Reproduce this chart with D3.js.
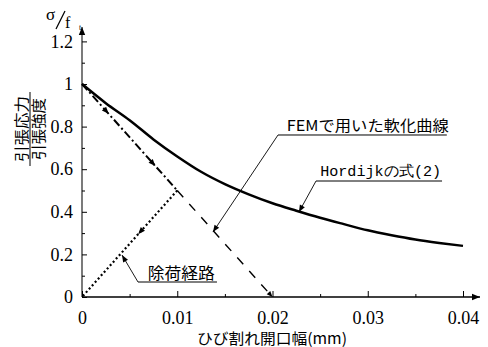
<!DOCTYPE html>
<html><head><meta charset="utf-8">
<script src="https://cdn.jsdelivr.net/npm/d3@7/dist/d3.min.js"></script>
<style>
html,body{margin:0;padding:0;background:#fff;}
svg{display:block;}
</style></head>
<body>
<script>
// ---- data ----
const crackWidth = [0, 0.0025, 0.005, 0.0075, 0.01, 0.0125, 0.015, 0.0175, 0.02, 0.0225, 0.025, 0.0275, 0.03, 0.0325, 0.035, 0.0375, 0.04];
const hordijk    = [1, 0.91, 0.83, 0.74, 0.66, 0.588, 0.53, 0.482, 0.44, 0.405, 0.372, 0.342, 0.313, 0.29, 0.27, 0.254, 0.24];
const femLoadW   = [0, 0.01];
const femLoadS   = [1, 0.5];
const femRestW   = [0.01, 0.02];
const femRestS   = [0.5, 0];
const unloadW    = [0.01, 0];
const unloadS    = [0.5, 0];
const xTickMajor = [0, 0.01, 0.02, 0.03, 0.04];
const xTickLabels = ["0", "0.01", "0.02", "0.03", "0.04"];
const xTickMinor = [0.005, 0.015, 0.025, 0.035];
const yTickMajor = [0, 0.2, 0.4, 0.6, 0.8, 1, 1.2];
const yTickLabels = ["0", "0.2", "0.4", "0.6", "0.8", "1", "1.2"];
const yTickMinor = [0.1, 0.3, 0.5, 0.7, 0.9, 1.1];
const xTitle = "ひび割れ開口幅(mm)";
const yTitleNum = "引張応力";
const yTitleDen = "引張強度";
const labelFEM = "FEMで用いた軟化曲線";
const labelHordijk = "Hordijkの式(2)";
const labelUnload = "除荷経路";

// ---- layout ----
const W = 488, H = 347;
const SERIF = '"Liberation Serif"';
const JP = '"Noto Sans CJK JP"';
const MONO = '"Liberation Mono"';
const svg = d3.select("body").append("svg").attr("width", W).attr("height", H);
const x = d3.scaleLinear().domain([0, 0.04]).range([82, 463]);
const y = d3.scaleLinear().domain([0, 1.2]).range([297, 41.4]);

const defs = svg.append("defs");
function mk(id, w, h) {
  defs.append("marker").attr("id", id).attr("viewBox", "0 0 10 10")
    .attr("refX", 10).attr("refY", 5).attr("markerWidth", w).attr("markerHeight", h)
    .attr("markerUnits", "userSpaceOnUse").attr("orient", "auto")
    .append("path").attr("d", "M0,1 L10,5 L0,9 Z").attr("fill", "#000");
}
mk("ax", 11, 8);
mk("ar", 9, 7);
mk("ars", 8, 6);

// axes lines with arrows
svg.append("line").attr("x1", x(0)).attr("y1", y(0)).attr("x2", 480).attr("y2", y(0))
  .attr("stroke", "#000").attr("stroke-width", 1.3).attr("marker-end", "url(#ax)");
svg.append("line").attr("x1", x(0)).attr("y1", y(0)).attr("x2", x(0)).attr("y2", 27)
  .attr("stroke", "#333").attr("stroke-width", 1.3).attr("marker-end", "url(#ax)");

// x axis ticks
const xAx = svg.append("g").attr("transform", `translate(0,${y(0)})`)
  .call(d3.axisBottom(x).tickValues(xTickMajor).tickSize(-6).tickPadding(14)
    .tickFormat((d, i) => xTickLabels[i]));
xAx.select(".domain").remove();
xAx.selectAll("text").style("font-family", SERIF).style("font-size", "18px").attr("fill", "#000");
const xMin = svg.append("g").attr("transform", `translate(0,${y(0)})`)
  .call(d3.axisBottom(x).tickValues(xTickMinor).tickSize(-3).tickFormat(""));
xMin.select(".domain").remove();

// y axis ticks
const yAx = svg.append("g").attr("transform", `translate(${x(0)},0)`)
  .call(d3.axisLeft(y).tickValues(yTickMajor).tickSize(-5).tickPadding(9)
    .tickFormat((d, i) => yTickLabels[i]));
yAx.select(".domain").remove();
yAx.selectAll("text").style("font-family", SERIF).style("font-size", "18px").attr("fill", "#000");
const yMin = svg.append("g").attr("transform", `translate(${x(0)},0)`)
  .call(d3.axisLeft(y).tickValues(yTickMinor).tickSize(-3).tickFormat(""));
yMin.select(".domain").remove();

// series
const line = d3.line().x(d => x(d[0])).y(d => y(d[1]));
svg.append("path").datum(crackWidth.map((w, i) => [w, hordijk[i]]))
  .attr("d", line.curve(d3.curveMonotoneX)).attr("fill", "none")
  .attr("stroke", "#000").attr("stroke-width", 2.5);
const lin = d3.line().x(d => x(d[0])).y(d => y(d[1]));
svg.append("path").datum(femLoadW.map((w, i) => [w, femLoadS[i]]))
  .attr("d", lin).attr("fill", "none").attr("stroke", "#000").attr("stroke-width", 2)
  .attr("stroke-dasharray", "8,3,2,3");
svg.append("path").datum(femRestW.map((w, i) => [w, femRestS[i]]))
  .attr("d", lin).attr("fill", "none").attr("stroke", "#000").attr("stroke-width", 1.4)
  .attr("stroke-dasharray", "9,9").attr("marker-end", "url(#ars)");
svg.append("path").datum(unloadW.map((w, i) => [w, unloadS[i]]))
  .attr("d", lin).attr("fill", "none").attr("stroke", "#000").attr("stroke-width", 2.2)
  .attr("stroke-dasharray", "2,2.5");

// direction arrows along paths
function arrowAt(w0, s0, w1, s1) {
  svg.append("line").attr("x1", x(w0)).attr("y1", y(s0)).attr("x2", x(w1)).attr("y2", y(s1))
    .attr("stroke", "none").attr("marker-end", "url(#ar)");
}
arrowAt(0.0070, 0.65, 0.0077, 0.615);
arrowAt(0.0066, 0.33, 0.0059, 0.295);
arrowAt(0.0022, 0.89, 0.0028, 0.86);

// annotations (anchors in data units)
function leader(ulx0, ulx1, uly, tipW, tipS) {
  svg.append("line").attr("x1", x(ulx0)).attr("y1", y(uly)).attr("x2", x(ulx1)).attr("y2", y(uly))
    .attr("stroke", "#000").attr("stroke-width", 1);
  svg.append("line").attr("x1", x(ulx0)).attr("y1", y(uly)).attr("x2", x(tipW)).attr("y2", y(tipS))
    .attr("stroke", "#000").attr("stroke-width", 0.9).attr("marker-end", "url(#ar)");
}
leader(0.02058, 0.0383, 0.7606, 0.01375, 0.305);
svg.append("text").attr("x", x(0.0215)).attr("y", y(0.7606) - 4)
  .style("font-family", JP).style("font-size", "15px").attr("textLength", 162).attr("lengthAdjust", "spacingAndGlyphs")
  .text(labelFEM);
leader(0.02457, 0.0378, 0.5446, 0.02278, 0.399);
svg.append("text").attr("x", x(0.0250)).attr("y", y(0.5446) - 5)
  .style("font-family", MONO).style("font-size", "15px")
  .attr("textLength", 121).attr("lengthAdjust", "spacingAndGlyphs")
  .text(labelHordijk);
leader(0.00588, 0.01417, 0.0704, 0.0042, 0.197);
svg.append("text").attr("x", x(0.0069)).attr("y", y(0.0704) - 3)
  .style("font-family", JP).style("font-size", "16px").attr("textLength", 67).attr("lengthAdjust", "spacingAndGlyphs")
  .text(labelUnload);

// x title
svg.append("text").attr("x", 197).attr("y", 344)
  .style("font-family", JP).style("font-size", "15px").attr("textLength", 150).attr("lengthAdjust", "spacingAndGlyphs")
  .text(xTitle);

// y title: fraction rotated
const yt = svg.append("g").attr("transform", "translate(30,129) rotate(-90)");
yt.append("text").attr("x", 0).attr("y", -3).attr("text-anchor", "middle")
  .style("font-family", JP).style("font-size", "15px").attr("textLength", 66).attr("lengthAdjust", "spacingAndGlyphs")
  .text(yTitleNum);
yt.append("line").attr("x1", -37).attr("x2", 37).attr("y1", 0).attr("y2", 0)
  .attr("stroke", "#000").attr("stroke-width", 1);
yt.append("text").attr("x", 0).attr("y", 14).attr("text-anchor", "middle")
  .style("font-family", JP).style("font-size", "15px").attr("textLength", 62).attr("lengthAdjust", "spacingAndGlyphs")
  .text(yTitleDen);

// sigma / f_t
svg.append("text").attr("x", 46).attr("y", 20).style("font-family", SERIF).style("font-size", "17px").text("σ");
svg.append("line").attr("x1", 56).attr("y1", 29).attr("x2", 65).attr("y2", 11)
  .attr("stroke", "#000").attr("stroke-width", 1.2);
svg.append("text").attr("x", 65).attr("y", 28).style("font-family", SERIF).style("font-size", "16px").text("f");
svg.append("text").attr("x", 79).attr("y", 30).style("font-family", SERIF).style("font-size", "8px").text("t");
</script>
</body></html>
